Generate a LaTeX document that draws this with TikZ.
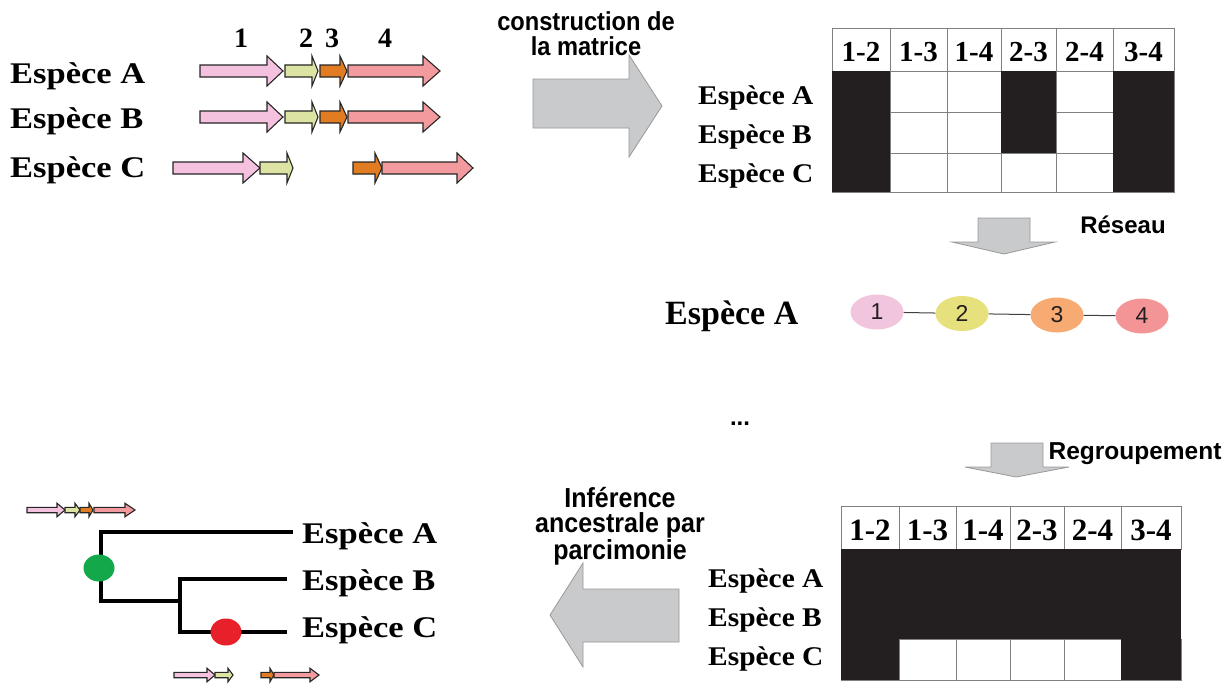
\documentclass[tikz,border=0pt]{standalone}
\usepackage{fontspec}
\setmainfont{Liberation Serif}
\setsansfont{Liberation Sans}
\newfontfamily\widebf[FakeStretch=1.15]{Liberation Serif}
\newfontfamily\midbf[FakeStretch=1.09]{Liberation Serif}
\newfontfamily\narrowsans[FakeStretch=0.91]{Liberation Sans}
\usetikzlibrary{positioning,shapes.geometric}

\definecolor{geneone}{HTML}{F4C2DE}
\definecolor{genetwo}{HTML}{DDE3A3}
\definecolor{genethree}{HTML}{E17C22}
\definecolor{genefour}{HTML}{F29A9E}
\definecolor{netone}{HTML}{F2C5DF}
\definecolor{nettwo}{HTML}{E6E17D}
\definecolor{netthree}{HTML}{F7AA72}
\definecolor{netfour}{HTML}{F39596}
\definecolor{arrowgray}{HTML}{C9CACC}
\definecolor{cellblack}{HTML}{231F20}
\definecolor{gaingreen}{HTML}{13A84A}
\definecolor{lossred}{HTML}{E8202A}

% colour, y, x start, head start, tip, scale
\newcommand{\genearrow}[6]{%
  \filldraw[genestroke,fill=#1] (#3,#2-6*#6) -- (#4,#2-6*#6) -- (#4,#2-15*#6)
    -- (#5,#2) -- (#4,#2+15*#6) -- (#4,#2+6*#6) -- (#3,#2+6*#6) -- cycle;}

\begin{document}
\begin{tikzpicture}[x=1pt,y=-1pt,
  genestroke/.style={draw=black!85,line width=1.1pt,line join=miter},
  bigarrow/.style={fill=arrowgray,draw=black!40,line width=0.8pt},
  spwide/.style={font=\widebf\bfseries\fontsize{30}{30}\selectfont,inner sep=0pt,anchor=base west},
  spmat/.style={font=\midbf\bfseries\fontsize{27}{27}\selectfont,inner sep=0pt,anchor=base west},
  spnet/.style={font=\bfseries\fontsize{34}{34}\selectfont,inner sep=0pt,anchor=base west},
  genenum/.style={font=\bfseries\fontsize{28}{28}\selectfont,inner sep=0pt,anchor=base},
  pairlab/.style={font=\bfseries\fontsize{#1}{#1}\selectfont,inner sep=0pt,anchor=base},
  steplab/.style={font=\narrowsans\bfseries\fontsize{#1}{25.5}\selectfont,align=center,inner sep=0pt,anchor=north},
  sidelab/.style={font=\sffamily\bfseries\fontsize{24}{24}\selectfont,inner sep=0pt,anchor=base},
  cellgrid/.style={draw=black!50,line width=1pt,fill=white},
  present/.style={fill=cellblack},
  netnode/.style={ellipse,minimum width=53pt,minimum height=35pt,inner sep=0pt,
    font=\sffamily\fontsize{23}{23}\selectfont,text=cellblack},
  netedge/.style={draw=black!75,line width=1pt},
  branch/.style={line width=3.6pt,line join=miter},
  ancestor/.style={ellipse,minimum width=31pt,minimum height=27pt,inner sep=0pt}]

\fill[white] (0,0) rectangle (1231,686);
\useasboundingbox (0,0) rectangle (1231,686);

\node[genenum] (num1) at (241,47) {1};
\node[genenum] (num2) at (306,47) {2};
\node[genenum] (num3) at (332,47) {3};
\node[genenum] (num4) at (385,47) {4};
\node[spwide] (spA) at (10,83) {Espèce A};
\node[spwide] (spB) at (10,128) {Espèce B};
\node[spwide] (spC) at (10,177) {Espèce C};

\foreach \y in {71,117} {
  \genearrow{geneone}{\y}{200}{267}{283}{1}
  \genearrow{genetwo}{\y}{285}{312}{318}{1}
  \genearrow{genethree}{\y}{320}{340}{347}{1}
  \genearrow{genefour}{\y}{348}{423}{440}{1}
}
\genearrow{geneone}{168}{173}{243}{260}{1}
\genearrow{genetwo}{168}{260}{287}{293}{1}
\genearrow{genethree}{168}{353}{375}{382}{1}
\genearrow{genefour}{168}{382}{457}{473}{1}

\filldraw[bigarrow] (533,79) -- (629,79) -- (629,55) -- (662,106) -- (629,157) -- (629,128) -- (533,128) -- cycle;
\node[steplab=26] (build) at (586,11) {construction de\\la matrice};

\foreach \xa/\xb/\pair [count=\i] in {832/890/1-2,890/947/1-3,947/1001/1-4,1001/1056/2-3,1056/1113/2-4,1113/1174/3-4} {
  \draw[cellgrid] (\xa,28) rectangle (\xb,71);
  \foreach \ya/\yb in {71/112,112/153,153/192}
    \draw[cellgrid] (\xa,\ya) rectangle (\xb,\yb);
  \node[pairlab=29] (mtop\i) at ({(\xa+\xb)/2},61) {\pair};
}
\fill[present] (832,71) rectangle (890,192);
\fill[present] (1001,71) rectangle (1056,153);
\fill[present] (1113,71) rectangle (1174,192);
\node[spmat] (mtopA) at (698,104) {Espèce A};
\node[spmat] (mtopB) at (698,143) {Espèce B};
\node[spmat] (mtopC) at (698,182) {Espèce C};

\filldraw[bigarrow] (978,218) -- (1030,218) -- (1030,242) -- (1055,242) -- (1004,254) -- (952,242) -- (978,242) -- cycle;
\node[sidelab] (reseau) at (1123,233) {Réseau};

\node[spnet] (netsp) at (665,324) {Espèce A};
\node[netnode,fill=netone] (n1) at (877,312) {1};
\node[netnode,fill=nettwo] (n2) at (962,313.5) {2};
\node[netnode,fill=netthree] (n3) at (1057,315) {3};
\node[netnode,fill=netfour] (n4) at (1142,316) {4};
\draw[netedge] (n1) -- (n2) (n2) -- (n3) (n3) -- (n4);

\node[sidelab] (dots) at (740,425) {...};

\filldraw[bigarrow] (991,443) -- (1043,443) -- (1043,467) -- (1069,467) -- (1016,477) -- (965,467) -- (991,467) -- cycle;
\node[sidelab,font=\sffamily\bfseries\fontsize{24.5}{24.5}\selectfont] (regroup) at (1135,459) {Regroupement};

\foreach \xa/\xb/\pair [count=\i] in {841/899/1-2,899/956/1-3,956/1010/1-4,1010/1064/2-3,1064/1121/2-4,1121/1181/3-4} {
  \draw[cellgrid] (\xa,506) rectangle (\xb,549);
  \draw[cellgrid] (\xa,639) rectangle (\xb,680);
  \node[pairlab=31] (mbot\i) at ({(\xa+\xb)/2},540) {\pair};
}
\fill[present] (841,549) rectangle (1181,639);
\fill[present] (841,639) rectangle (899,680);
\fill[present] (1121,639) rectangle (1181,680);
\node[spmat] (mbotA) at (708,587) {Espèce A};
\node[spmat] (mbotB) at (708,626) {Espèce B};
\node[spmat] (mbotC) at (708,665) {Espèce C};

\filldraw[bigarrow] (679,589) -- (679,642) -- (583,642) -- (583,667) -- (550,615) -- (583,563) -- (583,589) -- cycle;
\node[steplab=27.5] (infer) at (620,487) {Inférence\\ancestrale par\\parcimonie};

\genearrow{geneone}{510}{27}{57}{65}{0.45}
\genearrow{genetwo}{510}{65}{75}{80}{0.45}
\genearrow{genethree}{510}{80}{89}{93}{0.45}
\genearrow{genefour}{510}{94}{125}{135}{0.45}

\coordinate (tipA) at (293,532);
\coordinate (tipB) at (287,579);
\coordinate (tipC) at (287,632);
\coordinate (splitBC) at (180,601);
\draw[branch] (tipA) -| (101,601) -- (splitBC);
\draw[branch] (tipB) -| (splitBC) |- (tipC);
\node[ancestor,fill=gaingreen] (gain) at (99,568) {};
\node[ancestor,fill=lossred] (loss) at (226,632) {};
\node[spwide] (leafA) at (302,543) {Espèce A};
\node[spwide] (leafB) at (302,590) {Espèce B};
\node[spwide] (leafC) at (302,637) {Espèce C};

\genearrow{geneone}{675}{174}{207}{215}{0.45}
\genearrow{genetwo}{675}{215}{228}{233}{0.45}
\genearrow{genethree}{675}{261}{270}{274}{0.45}
\genearrow{genefour}{675}{274}{310}{319}{0.45}
\end{tikzpicture}
\end{document}
